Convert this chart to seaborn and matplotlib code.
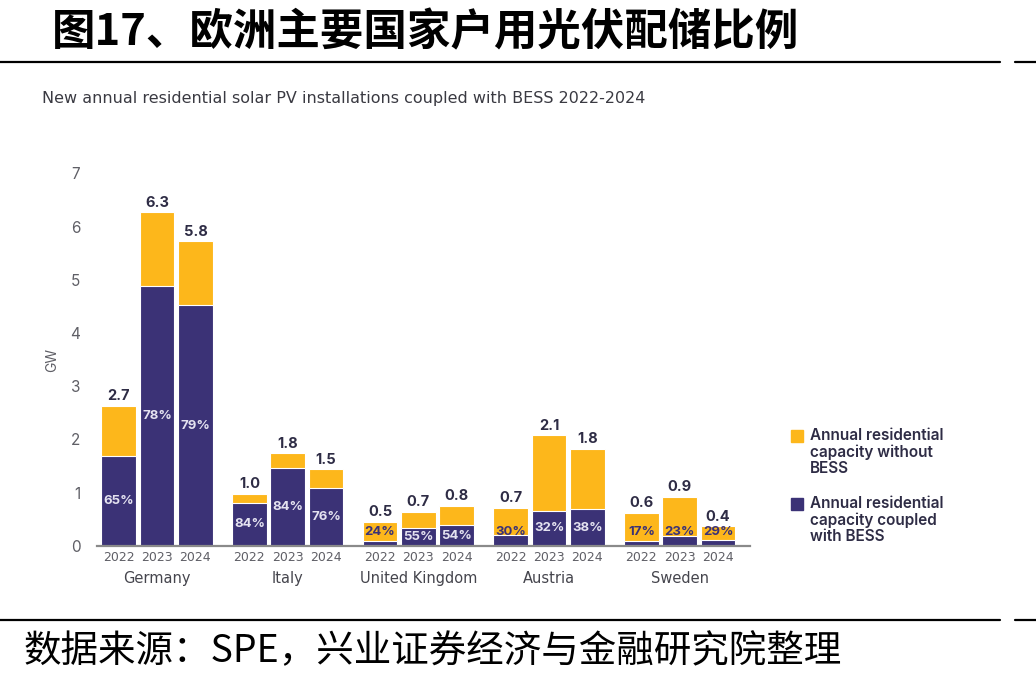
# %%
import matplotlib
matplotlib.use("Agg")
import matplotlib.pyplot as plt
from matplotlib.patches import Rectangle
import seaborn as sns
import pandas as pd

# %%
countries = ["Germany", "Italy", "United Kingdom", "Austria", "Sweden"]
years = ["2022", "2023", "2024"]
# bar heights (GW), country-major, year-minor
total_gw = [2.63, 6.27, 5.72,
            0.98, 1.74, 1.44,
            0.45, 0.64, 0.75,
            0.71, 2.08, 1.82,
            0.62, 0.92, 0.37]
coupled_gw = [1.69, 4.88, 4.52,
              0.81, 1.46, 1.09,
              0.10, 0.34, 0.39,
              0.20, 0.66, 0.69,
              0.10, 0.19, 0.11]
total_labels = ["2.7", "6.3", "5.8",
                "1.0", "1.8", "1.5",
                "0.5", "0.7", "0.8",
                "0.7", "2.1", "1.8",
                "0.6", "0.9", "0.4"]
share_labels = ["65%", "78%", "79%",
                "84%", "84%", "76%",
                "24%", "55%", "54%",
                "30%", "32%", "38%",
                "17%", "23%", "29%"]

df = pd.DataFrame({
  "country": [c for c in countries for _ in years],
  "year": years * len(countries),
  "total": total_gw,
  "coupled": coupled_gw,
})

YELLOW = "#FDB71B"
PURPLE = "#3B3276"
DARK = "#2E2C45"
GREY = "#5F5F66"
WIDE = ["DejaVu Sans"]

# %%
sns.set_theme(style="white")
plt.rcParams["font.family"] = ["Inter", "Noto Sans CJK SC", "DejaVu Sans"]

fig = plt.figure(figsize=(10.36, 6.85), dpi=100)
ax = fig.add_axes([0.0936, 0.203, 0.63, 0.544])

sns.barplot(
  data=df, x="country", y="total", hue="year",
  palette=[YELLOW] * 3, saturation=1, width=0.88, gap=0.1,
  edgecolor="white", linewidth=0.8, legend=False, ax=ax,
  order=countries, hue_order=years,
)
sns.barplot(
  data=df, x="country", y="coupled", hue="year",
  palette=[PURPLE] * 3, saturation=1, width=0.88, gap=0.1,
  edgecolor="white", linewidth=0.8, legend=False, ax=ax,
  order=countries, hue_order=years,
)

ax.set_ylim(0, 7)
ax.set_xlim(-0.46, 4.535)
ax.set_yticks(range(0, 8))
ax.tick_params(axis="y", labelsize=11, colors=GREY, length=0, pad=12)
ax.set_xticks([])
ax.set_xlabel("")
ax.set_ylabel("GW", fontsize=10, color=GREY, labelpad=8)
for s in ["top", "right", "left"]:
  ax.spines[s].set_visible(False)
ax.spines["bottom"].set_color("#8A8A8A")
ax.spines["bottom"].set_linewidth(1.6)

# labels
for yi, yr in enumerate(years):
  bars = ax.containers[yi]
  for ci, country in enumerate(countries):
    k = ci * 3 + yi
    bar = bars[ci]
    xc = bar.get_x() + bar.get_width() / 2
    ax.text(xc, total_gw[k] + 0.05, total_labels[k], ha="center", va="bottom",
            fontsize=10.5, fontweight="bold", color=DARK)
    cp = coupled_gw[k]
    if cp > 0.3:
      ax.text(xc, cp / 2, share_labels[k], ha="center", va="center",
              fontsize=9.5, fontweight="bold", color="#E4E2F0")
    else:
      ax.text(xc, 0.26, share_labels[k], ha="center", va="center",
              fontsize=9.5, fontweight="bold", color=PURPLE)
    ax.text(xc, -0.22, yr, ha="center", va="center", fontsize=9,
            color=GREY, family=WIDE, clip_on=False)

for ci, country in enumerate(countries):
  ax.text(ci, -0.62, country, ha="center", va="center", fontsize=10.5,
          color="#45454D", family=WIDE, clip_on=False)

# legend drawn by hand to keep the square on the first line
legend_items = [
  (YELLOW, "Annual residential\ncapacity without\nBESS", 436),
  (PURPLE, "Annual residential\ncapacity coupled\nwith BESS", 504),
]
for color, label, ytop in legend_items:
  fig.add_artist(Rectangle((791 / 1036, 1 - (ytop + 6) / 685), 12 / 1036, 12 / 685,
                           transform=fig.transFigure, color=color))
  fig.text(810 / 1036, 1 - (ytop - 8) / 685, label, ha="left", va="top",
           fontsize=11, fontweight="semibold", color=DARK, linespacing=1.12)

# subtitle
fig.text(42 / 1036, 1 - 99 / 685, "New annual residential solar PV installations coupled with BESS 2022-2024",
         ha="left", va="center", fontsize=11.5, color="#3A3A42", family=WIDE)

# report frame: title, rules and source line
fig.text(52 / 1036, 1 - 32 / 685, "图17、欧洲主要国家户用光伏配储比例",
         ha="left", va="center", fontsize=31.3, fontweight="bold", color="black",
         family=["Noto Sans CJK SC", "DejaVu Sans"])
for yy in [62, 620]:
  fig.add_artist(plt.Line2D([0, 1000 / 1036], [1 - yy / 685] * 2, color="black", lw=1.6))
  fig.add_artist(plt.Line2D([1015 / 1036, 1], [1 - yy / 685] * 2, color="black", lw=1.6))
fig.text(24 / 1036, 1 - 652 / 685, "数据来源：SPE，兴业证券经济与金融研究院整理",
         ha="left", va="center", fontsize=27, color="black",
         family=["Noto Sans CJK SC", "DejaVu Sans"])

plt.savefig("out.png", dpi=100)
